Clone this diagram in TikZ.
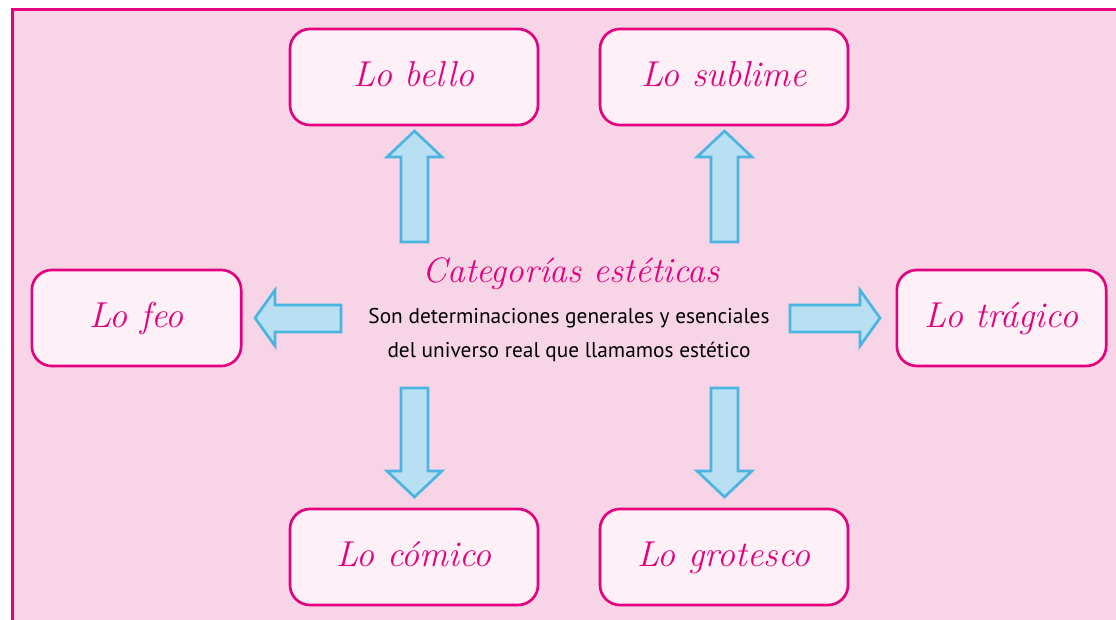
\documentclass[tikz,border=0pt]{standalone}
\usepackage{fontspec}
\usepackage{tikz}
\newfontfamily\bodyfont{PT Sans}
\definecolor{framemag}{RGB}{228,0,127}
\definecolor{bgpink}{RGB}{247,212,230}
\definecolor{boxpink}{RGB}{253,240,247}
\definecolor{arrfill}{RGB}{184,223,242}
\definecolor{arrline}{RGB}{76,180,224}
\tikzset{
  catbox/.style={draw=framemag, line width=2pt, fill=boxpink, rounded corners=15pt,
    minimum width=186pt, minimum height=72pt, text=framemag,
    text height=19pt, text depth=4.5pt,
    font=\itshape\fontsize{27}{32}\selectfont},
  blockarr/.style={draw=arrline, line width=2pt, fill=arrfill, line join=miter}
}
\begin{document}
\begin{tikzpicture}[x=0.75pt,y=0.75pt,yscale=-1,xscale=1]
\useasboundingbox (0,0) rectangle (1116,620);
\clip (0,0) rectangle (1116,620);
%Shape: Frame
\draw [line width=2.25pt, draw=framemag, fill=bgpink] (12,10) rectangle (1140,650);
%Up Arrows
\draw [blockarr] (401,242) -- (401,157) -- (387,157) -- (414.5,131) -- (442,157) -- (428,157) -- (428,242) -- cycle;
\draw [blockarr] (711,242) -- (711,157) -- (697,157) -- (724.5,131) -- (752,157) -- (738,157) -- (738,242) -- cycle;
%Down Arrows
\draw [blockarr] (401,388) -- (401,471) -- (387,471) -- (414.5,497) -- (442,471) -- (428,471) -- (428,388) -- cycle;
\draw [blockarr] (711,388) -- (711,471) -- (697,471) -- (724.5,497) -- (752,471) -- (738,471) -- (738,388) -- cycle;
%Left Arrow
\draw [blockarr] (341,305) -- (275,305) -- (275,290) -- (255,318) -- (275,346) -- (275,332) -- (341,332) -- cycle;
%Right Arrow
\draw [blockarr] (790,305) -- (860,305) -- (860,290) -- (880,318) -- (860,346) -- (860,332) -- (790,332) -- cycle;
% Category boxes
\node [catbox] (bello) at (414,77) {Lo bello};
\node [catbox] (sublime) at (724,77) {Lo sublime};
\node [catbox, minimum width=157pt] (feo) at (136.5,318) {Lo feo};
\node [catbox, minimum width=157pt] (tragico) at (1001.5,318) {Lo trágico};
\node [catbox] (comico) at (414,557) {Lo cómico};
\node [catbox] (grotesco) at (724,557) {Lo grotesco};
% Text Node
\node [text=framemag, font=\itshape\fontsize{26.5}{30}\selectfont] (titulo) at (571,274) {Categorías estéticas};
% Text Node
\node [align=center, font=\bodyfont\fontsize{16}{25}\selectfont] (definicion) at (569,335) {Son determinaciones generales y esenciales\\del universo real que llamamos estético};
\end{tikzpicture}
\end{document}
